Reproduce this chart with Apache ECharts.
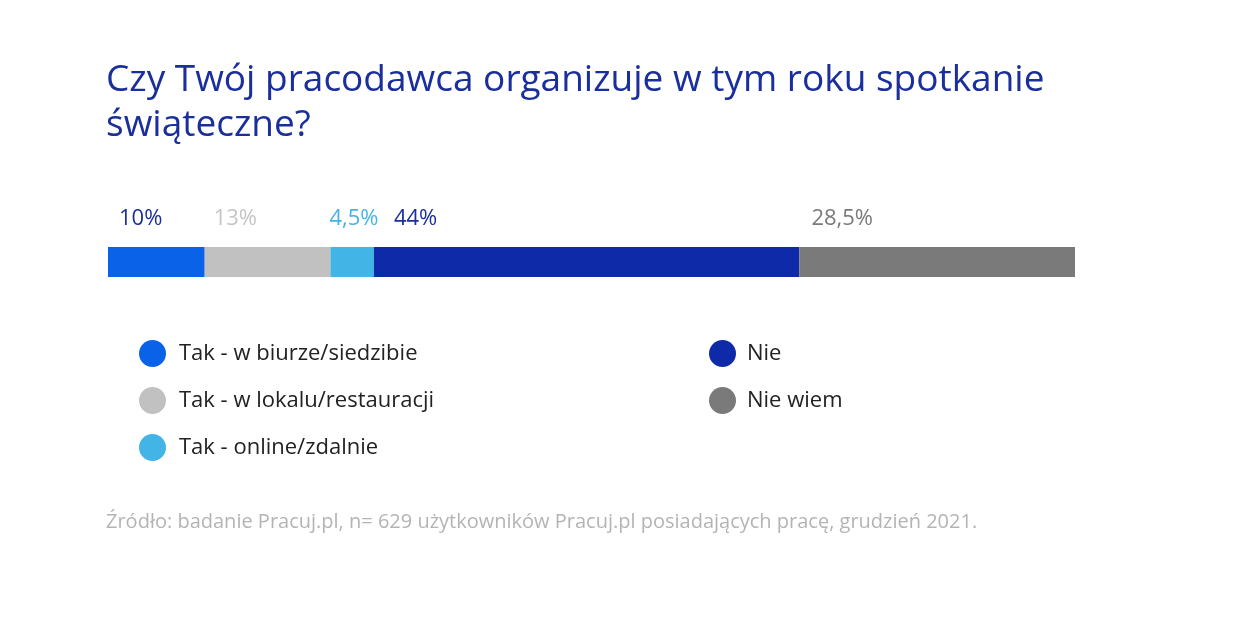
<!DOCTYPE html>
<html><head><meta charset="utf-8">
<script src="https://cdn.jsdelivr.net/npm/echarts@6/dist/echarts.min.js"></script>
<style>html,body{margin:0;padding:0;background:#fff}#c{width:1240px;height:623px}</style>
</head><body><div id="c"></div>
<script>
const categories = ['Pracodawca'];
const seriesNames = ['Tak - w biurze/siedzibie','Tak - w lokalu/restauracji','Tak - online/zdalnie','Nie','Nie wiem'];
const seriesValues = [10, 13, 4.5, 44, 28.5];
const valueLabels = ['10%','13%','4,5%','44%','28,5%'];
const colors = ['#0a62e8','#c1c1c1','#42b4e6','#0e2aa8','#7a7a7b'];
const labelColors = ['#1a2f9c','#c6c6c6','#45b4e6','#1a2f9c','#7a7a7a'];
const labelDx = [11, 9, -1, 20, 12];

const chart = echarts.init(document.getElementById('c'));
const FONT = '"Open Sans", "Noto Sans", sans-serif';
chart.setOption({
  animation: false,
  title: {
    text: 'Czy Twój pracodawca organizuje w tym roku spotkanie\nświąteczne?',
    left: 101, top: 53,
    textStyle: { color: '#1a2f9c', fontFamily: FONT, fontSize: 37, fontWeight: 'normal', lineHeight: 45 }
  },
  grid: { left: 108, right: 165, top: 247, height: 30 },
  xAxis: { type: 'value', min: 0, max: 100, show: false },
  yAxis: { type: 'category', data: categories, show: false },
  legend: [
    { data: seriesNames.slice(0,3), orient: 'vertical', left: 139, top: 340, padding: 0, icon: 'circle',
      itemWidth: 27, itemHeight: 27, itemGap: 20, selectedMode: false,
      textStyle: { color: '#222', fontSize: 22, fontFamily: FONT, padding: [0,0,0,8] } },
    { data: seriesNames.slice(3), orient: 'vertical', left: 709, top: 340, padding: 0, icon: 'circle',
      itemWidth: 27, itemHeight: 27, itemGap: 20, selectedMode: false,
      textStyle: { color: '#222', fontSize: 22, fontFamily: FONT, padding: [0,0,0,6] } }
  ],
  series: seriesNames.map((n, i) => ({
    name: n, type: 'bar', stack: 'all', barWidth: 30,
    data: [seriesValues[i]],
    itemStyle: { color: colors[i] },
    label: {
      show: true, position: [labelDx[i], -17], verticalAlign: 'bottom', align: 'left',
      formatter: () => valueLabels[i],
      color: labelColors[i], fontSize: 22, fontFamily: FONT
    }
  })),
  graphic: [{
    type: 'text', left: 106, top: 512,
    style: { text: 'Źródło: badanie Pracuj.pl, n= 629 użytkowników Pracuj.pl posiadających pracę, grudzień 2021.',
      fill: '#b4b4b4', fontSize: 20, fontFamily: FONT }
  }]
});
</script></body></html>
